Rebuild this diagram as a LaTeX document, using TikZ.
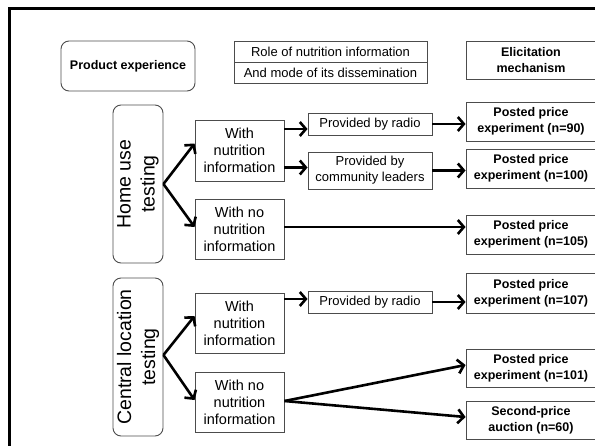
\documentclass[tikz,border=0pt]{standalone}
\usepackage{fontspec}
\setmainfont{Liberation Sans}
\usetikzlibrary{arrows.meta}

\begin{document}
\begin{tikzpicture}[x=1pt,y=-1pt,>={Straight Barb[length=6pt,width=14pt]},
        box/.style={draw=black!70,line width=0.9pt,inner sep=1pt,align=center},
        rbox/.style={box,rounded corners=8pt},
        small/.style={font=\fontsize{13}{16}\selectfont},
        heavy/.style={font=\fontsize{12.5}{16}\selectfont\bfseries},
        mid/.style={font=\fontsize{14.5}{17}\selectfont},
        big/.style={font=\fontsize{19.5}{24}\selectfont},
        outbox/.style={box,heavy,minimum width=130pt,minimum height=39pt},
        flow/.style={->,line width=2.6pt}]
        \useasboundingbox (0,0) rectangle (595,445);
        \clip (0,0) rectangle (595,445);
        \draw[line width=3pt] (9.5,460) |- (610,8.5);
        % headings
        \node[rbox,heavy,minimum width=134pt,minimum height=50pt] (prod) at (128,66) {Product experience};
        \node[box,small,minimum width=193pt,minimum height=21pt] (role) at (330.5,51.5) {Role of nutrition information};
        \node[box,small,minimum width=193pt,minimum height=21pt] (mode) at (330.5,72.5) {And mode of its dissemination};
        \node[outbox,minimum height=38pt] (elic) at (531,60) {Elicitation\\mechanism};
        % product experience
        \node[rbox,big,rotate=90,minimum width=158pt,minimum height=50pt] (home) at (138,184) {Home use\\testing};
        \node[rbox,big,rotate=90,minimum width=158pt,minimum height=50pt] (cent) at (138,357) {Central location\\testing};
        % information
        \node[box,mid,minimum width=89pt,minimum height=61pt] (hw) at (239.5,150.5) {With\\nutrition\\information};
        \node[box,mid,minimum width=89pt,minimum height=60pt] (hn) at (239.5,229) {With no\\nutrition\\information};
        \node[box,mid,minimum width=89pt,minimum height=60pt] (cw) at (239.5,323) {With\\nutrition\\information};
        \node[box,mid,minimum width=89pt,minimum height=60pt] (cn) at (239.5,402) {With no\\nutrition\\information};
        \node[box,small,minimum width=124pt,minimum height=22pt] (hr) at (370,124) {Provided by radio};
        \node[box,small,minimum width=124pt,minimum height=37pt] (hc) at (370,170.5) {Provided by\\community leaders};
        \node[box,small,minimum width=124pt,minimum height=22pt] (cr) at (370,302) {Provided by radio};
        % mechanisms
        \node[outbox] (m1) at (531,121.5) {Posted price\\experiment (n=90)};
        \node[outbox] (m2) at (531,168.5) {Posted price\\experiment (n=100)};
        \node[outbox] (m3) at (531,234.5) {Posted price\\experiment (n=105)};
        \node[outbox,minimum height=40pt] (m4) at (531,293) {Posted price\\experiment (n=107)};
        \node[outbox,minimum height=38pt] (m5) at (531,368) {Posted price\\experiment (n=101)};
        \node[outbox,minimum height=38pt] (m6) at (531,420) {Second-price\\auction (n=60)};
        % arrows
        \draw[flow] (home.south) -- ([yshift=7pt]hw.west);
        \draw[flow] (home.south) -- ([yshift=2pt]hn.west);
        \draw[flow] ([yshift=-5pt]hr.west -| hw.east) -- ([yshift=-5pt]hr.west);
        \draw[flow] ([yshift=3pt]hc.west -| hw.east) -- ([yshift=3pt]hc.west);
        \draw[flow] (hr.east) -- (m1.west |- hr.east);
        \draw[flow] (hc.east) -- (m2.west |- hc.east);
        \draw[flow] ([yshift=2pt]hn.east) -- ([yshift=7.5pt]m3.west);
        \draw[flow] ([yshift=2pt]cent.south) -- ([yshift=7pt]cw.west);
        \draw[flow] ([yshift=2pt]cent.south) -- ([yshift=2pt]cn.west);
        \draw[flow] ([yshift=3pt]cr.west -| cw.east) -- ([yshift=3pt]cr.west);
        \draw[flow] (cr.east) -- (m4.west |- cr.east);
        \draw[flow] ([yshift=1pt]cn.east) -- ([yshift=3pt]m5.west);
        \draw[flow] ([yshift=1pt]cn.east) -- ([yshift=3pt]m6.west);
\end{tikzpicture}
\end{document}
